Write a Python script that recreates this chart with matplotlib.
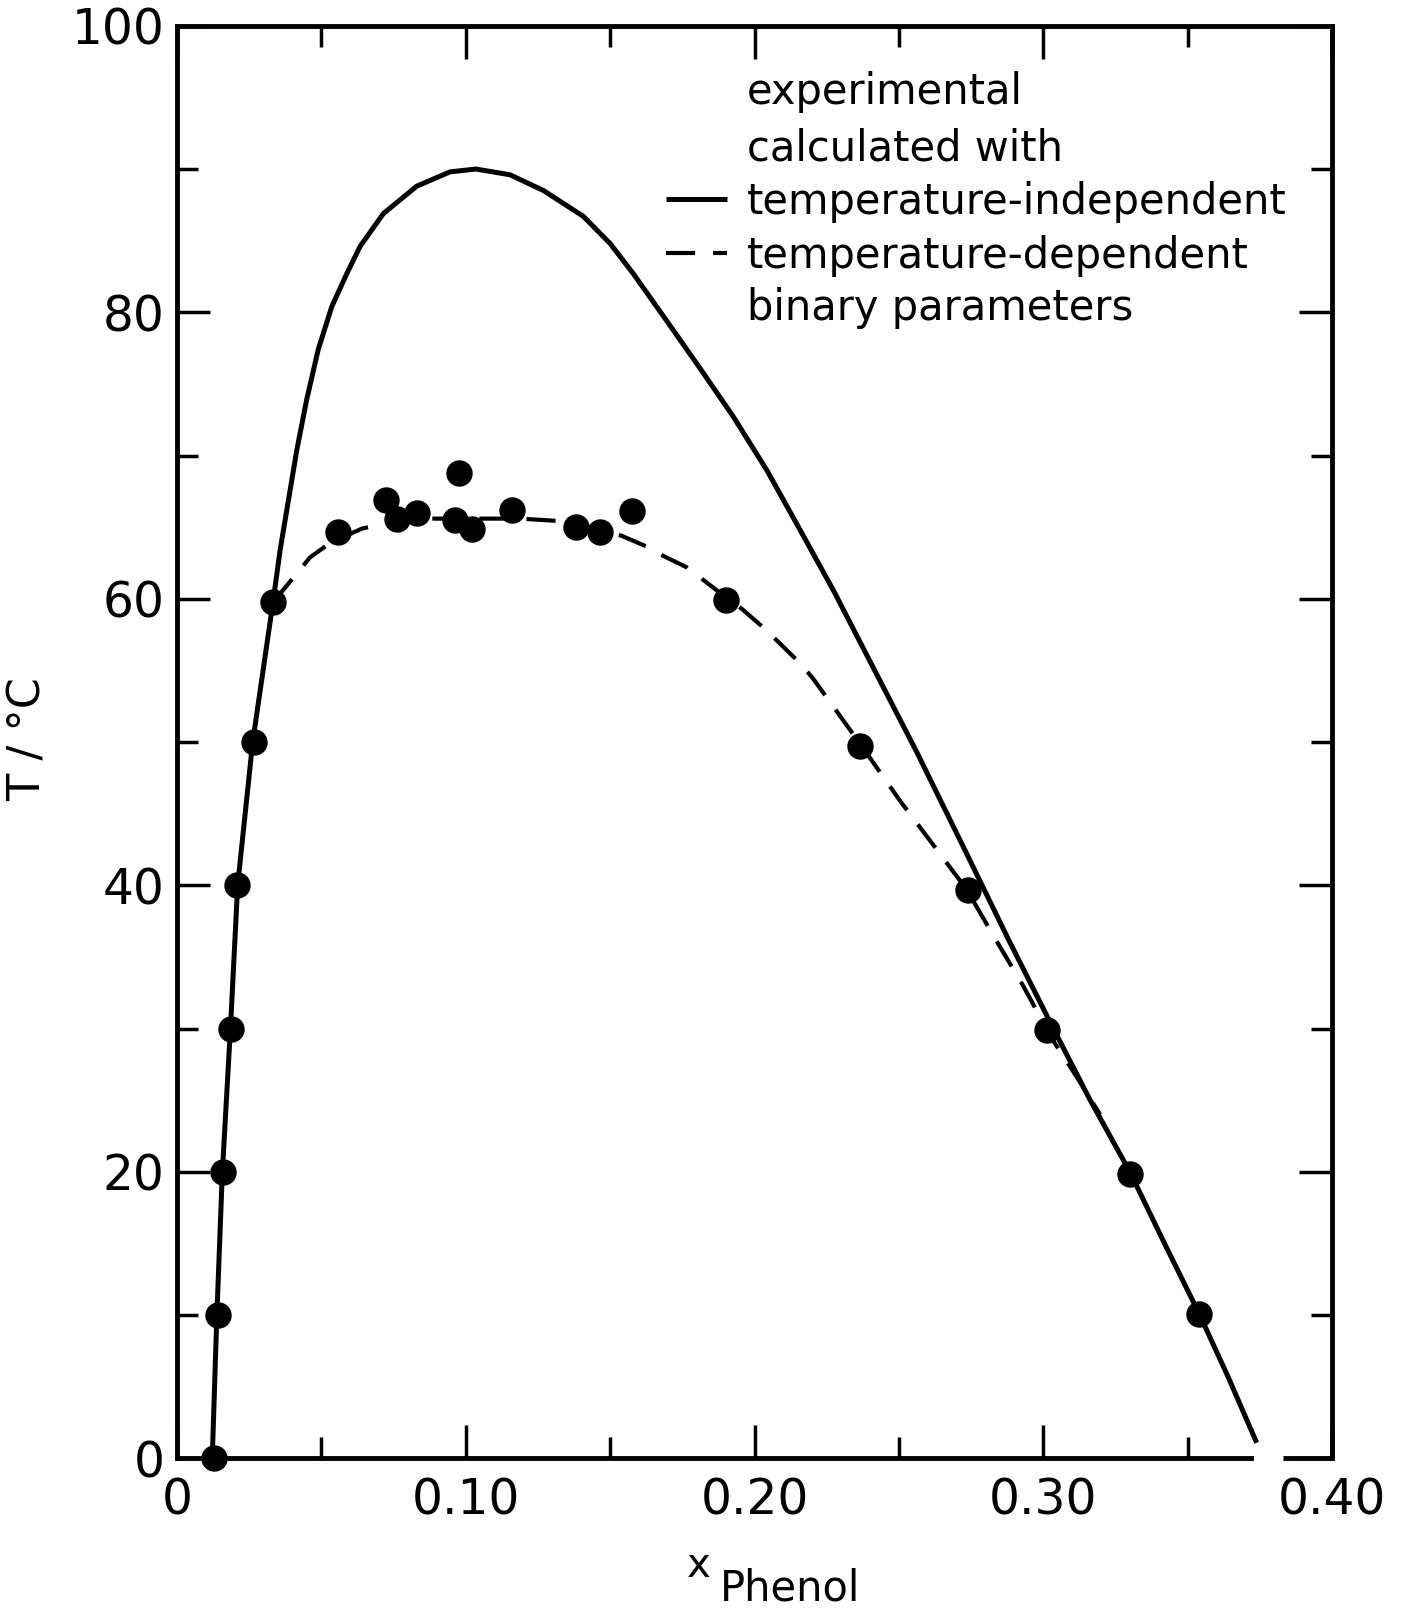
import matplotlib
matplotlib.use("Agg")
import matplotlib.pyplot as plt
from matplotlib.ticker import MultipleLocator, FixedLocator, FixedFormatter

# experimental cloud points, T in degC vs mole fraction of phenol
exp_x = [0.0127, 0.0141, 0.0159, 0.0187, 0.0209, 0.0266, 0.0334, 0.0559,
         0.0724, 0.0761, 0.0830, 0.0978, 0.0963, 0.1021, 0.1159, 0.1382,
         0.1465, 0.1577, 0.1901, 0.2365, 0.2740, 0.3012, 0.3300, 0.3540]
exp_T = [0.0, 10.0, 20.0, 30.0, 40.0, 50.0, 59.8, 64.7,
         66.9, 65.6, 66.0, 68.8, 65.5, 64.9, 66.2, 65.0,
         64.7, 66.1, 59.9, 49.7, 39.7, 29.9, 19.85, 10.06]

# calculated, temperature-independent parameters (solid)
indep_x = [0.0122, 0.0138, 0.0157, 0.0185, 0.0210, 0.0262, 0.0334, 0.0357,
           0.0386, 0.0415, 0.0449, 0.0489, 0.0536, 0.0588, 0.0634, 0.0715,
           0.0830, 0.0945, 0.1035, 0.1153, 0.1269, 0.1407, 0.1500, 0.1580,
           0.1696, 0.1811, 0.1927, 0.2042, 0.2158, 0.2273, 0.2562, 0.2735,
           0.2880, 0.3025, 0.3160, 0.3300, 0.3420, 0.3540, 0.3640, 0.3739]
indep_T = [0.0, 10.0, 20.0, 30.0, 40.0, 50.0, 60.0, 63.4,
           66.9, 70.4, 73.9, 77.4, 80.4, 82.7, 84.6, 86.9,
           88.8, 89.8, 90.0, 89.6, 88.5, 86.7, 84.8, 82.7,
           79.4, 76.1, 72.7, 69.0, 64.8, 60.6, 49.3, 42.2,
           36.2, 30.4, 25.1, 20.0, 15.0, 10.1, 5.7, 1.1]

# calculated, temperature-dependent parameters (dashed)
dep_x = [0.0334, 0.0420, 0.0461, 0.0530, 0.0640, 0.0726, 0.0876, 0.1084,
         0.1188, 0.1350, 0.1540, 0.1632, 0.1684, 0.1765, 0.1811, 0.1869,
         0.1956, 0.2036, 0.2077, 0.2163, 0.2204, 0.2365, 0.2504, 0.2620,
         0.2735, 0.2827, 0.2930, 0.3030, 0.3120, 0.3197]
dep_T = [59.8, 61.9, 62.9, 63.9, 64.9, 65.3, 65.6, 65.6,
         65.6, 65.4, 64.4, 63.6, 63.0, 62.2, 61.5, 60.6,
         59.3, 57.9, 57.1, 55.4, 54.4, 49.9, 45.9, 42.8,
         39.7, 36.5, 33.0, 29.3, 26.5, 24.0]

x_ticks = [0.0, 0.1, 0.2, 0.3, 0.4]
x_tick_labels = ["0", "0.10", "0.20", "0.30", "0.40"]
y_ticks = [0, 20, 40, 60, 80, 100]
y_tick_labels = ["0", "20", "40", "60", "80", "100"]

legend_lines = ["experimental", "calculated with", "temperature-independent",
                "temperature-dependent", "binary parameters"]

plt.rcParams["font.family"] = ["DejaVu Sans"]

fig = plt.figure(figsize=(14.06, 16.10), dpi=100)
ax = fig.add_axes([0.1259, 0.0941, 0.8215, 0.8899])

lw_frame = 3.5
ax.plot(indep_x, indep_T, color="black", lw=3.6, solid_capstyle="butt",
        solid_joinstyle="round", zorder=3)
ax.plot(dep_x, dep_T, color="black", lw=3.0, dashes=(7, 4.3), zorder=3)
ax.plot(exp_x, exp_T, "o", color="black", markersize=18, zorder=4, clip_on=False)

ax.set_xlim(0, 0.4)
ax.set_ylim(0, 100)

for side in ["left", "right", "top", "bottom"]:
    ax.spines[side].set_linewidth(lw_frame)
# the frame is broken where the solid curve hits the bottom axis
ax.spines["bottom"].set_bounds(0, 0.372)
ax.plot([0.383, 0.4], [0, 0], color="black", lw=lw_frame,
        solid_capstyle="butt", clip_on=False, zorder=5)

ax.xaxis.set_major_locator(FixedLocator(x_ticks))
ax.xaxis.set_major_formatter(FixedFormatter(x_tick_labels))
ax.xaxis.set_minor_locator(MultipleLocator(0.05))
ax.yaxis.set_major_locator(FixedLocator(y_ticks))
ax.yaxis.set_major_formatter(FixedFormatter(y_tick_labels))
ax.yaxis.set_minor_locator(MultipleLocator(10))

ax.tick_params(which="both", direction="in", top=True, right=True, width=2.5)
ax.tick_params(which="major", length=24)
ax.tick_params(which="minor", length=15)
ax.tick_params(axis="x", which="major", pad=13, labelsize=35)
ax.tick_params(axis="y", which="major", pad=9, labelsize=35)

# axis titles
ax.set_ylabel("T / °C", fontsize=32)
ax.yaxis.set_label_coords(-0.110, 0.502)
fig.text(0.4972, 0.0205, "x", fontsize=29, ha="center", va="baseline")
fig.text(0.5121, 0.0062, "Phenol", fontsize=30, ha="left", va="baseline")

# hand-drawn legend block
text_x = 0.4932
text_y = [0.9535, 0.914, 0.8767, 0.8395, 0.8029]
for label, ty in zip(legend_lines, text_y):
    ax.text(text_x, ty, label, transform=ax.transAxes, fontsize=30,
            ha="left", va="center")
ax.plot([0.423, 0.4762], [0.879, 0.879], transform=ax.transAxes,
        color="black", lw=3.6, solid_capstyle="butt")
ax.plot([0.423, 0.4762], [0.8415, 0.8415], transform=ax.transAxes,
        color="black", lw=3.0, dashes=(7, 4.3))

fig.savefig("out.png", dpi=100)
